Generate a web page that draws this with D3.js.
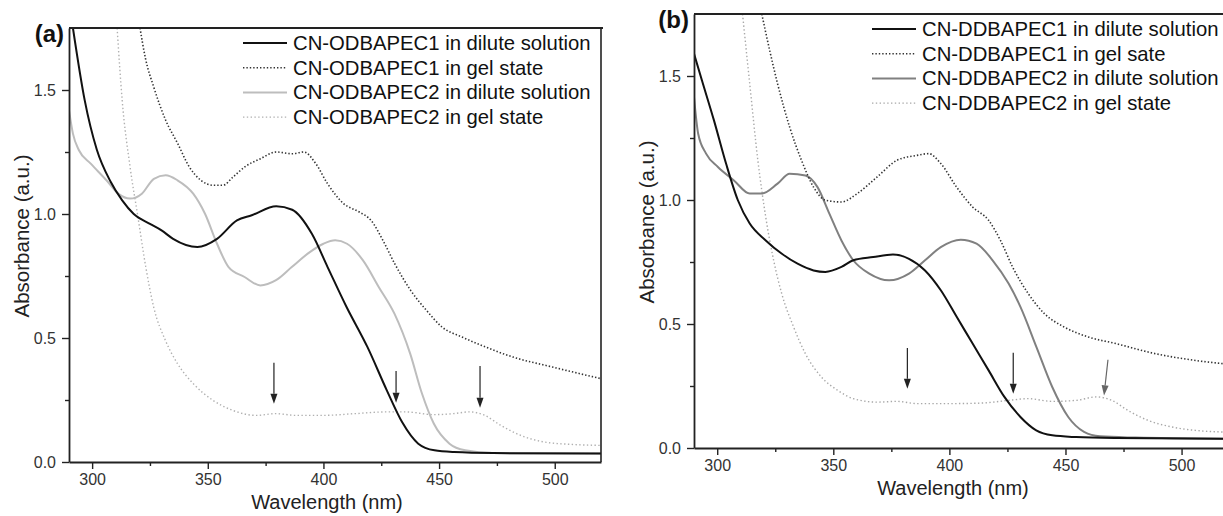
<!DOCTYPE html>
<html>
<head>
<meta charset="utf-8">
<script src="https://cdn.jsdelivr.net/npm/d3@7/dist/d3.min.js"></script>
<style>
  body { margin: 0; background: #fff; }
  svg { display: block; font-family: "Liberation Sans", Arial, sans-serif; }
</style>
</head>
<body>
<svg id="chart" width="1223" height="516"></svg>
<script>
// ---- data: [wavelength nm, absorbance a.u.] ----
var odb1Dilute = [[291.7,1.75],[296.8,1.458],[302,1.26],[308,1.13],[313,1.055],[318,1.0],[325,0.96],[330,0.934],
  [335,0.90],[345.5,0.867],[354,0.90],[362.6,0.974],[369,0.995],[379.6,1.031],[386.5,1.017],[395,0.92],
  [401.8,0.786],[410,0.625],[419,0.464],[427.4,0.289],[434,0.161],[441,0.074],[448,0.047],[456.5,0.040],
  [473.5,0.036],[520,0.034]];
var odb1Gel = [[320.7,1.75],[323,1.63],[326.7,1.51],[331.8,1.378],[337,1.284],[342,1.19],[347,1.136],[352.3,1.116],
  [356.6,1.116],[360.9,1.149],[366,1.19],[372.8,1.223],[379.6,1.25],[386.5,1.243],[391.6,1.25],[396.7,1.203],
  [401.8,1.122],[408.7,1.042],[415.5,1.008],[420.6,0.974],[425.7,0.894],[430.8,0.80],[437.7,0.692],[444.5,0.612],
  [451.3,0.544],[459.9,0.504],[468.4,0.470],[482,0.423],[499,0.383],[520,0.336]];
var odb2Dilute = [[290,1.418],[291.7,1.324],[294.3,1.257],[299.4,1.203],[306.2,1.136],[311.3,1.082],[316.4,1.062],
  [321.5,1.082],[326.7,1.142],[331.8,1.156],[336.9,1.136],[343.7,1.082],[348.8,1.001],[354,0.88],[359,0.786],
  [365.9,0.746],[372.7,0.712],[379.5,0.733],[386.3,0.786],[393.2,0.84],[400,0.88],[405.1,0.894],[410.2,0.88],
  [417.1,0.813],[423.9,0.706],[430.7,0.598],[437.5,0.437],[442.6,0.276],[447.7,0.155],[454.5,0.074],
  [461.3,0.047],[473.2,0.036],[520,0.034]];
var odb2Gel = [[310.8,1.75],[313,1.458],[316.4,1.19],[319.8,0.988],[323.2,0.786],[326.6,0.625],[331.7,0.49],
  [336.9,0.397],[343.7,0.316],[352.2,0.249],[360.8,0.208],[371,0.188],[379.5,0.195],[388,0.188],[400,0.188],
  [413.6,0.195],[427.2,0.202],[435.7,0.202],[447.7,0.191],[456.2,0.195],[463,0.202],[469.8,0.188],[476.6,0.148],
  [485.1,0.108],[495.3,0.081],[507.2,0.071],[520,0.067]];

var ddb1Dilute = [[290,1.59],[293.4,1.483],[298.6,1.321],[303.8,1.147],[308.9,0.999],[314,0.905],[320.9,0.837],
  [327.7,0.784],[334.6,0.743],[341.5,0.716],[346.6,0.710],[353.5,0.730],[358.6,0.757],[367.2,0.770],[375.7,0.780],
  [382.6,0.763],[389.5,0.716],[396.3,0.636],[403.2,0.528],[410,0.421],[416.9,0.313],[423.7,0.206],[430.6,0.125],
  [437.4,0.071],[444.3,0.051],[454.6,0.044],[471.7,0.040],[520,0.037]];
var ddb1Gel = [[319.2,1.75],[322.6,1.603],[326,1.469],[331.2,1.294],[336.3,1.16],[341.5,1.052],[346.6,0.999],
  [353.5,0.992],[360.3,1.026],[368.9,1.093],[377.4,1.16],[386,1.18],[391.1,1.187],[396.3,1.147],[403.1,1.052],
  [410,0.972],[416.9,0.918],[422,0.837],[427.2,0.730],[434,0.622],[440.9,0.542],[449.4,0.488],[459.7,0.448],
  [471.7,0.421],[488.9,0.380],[506,0.353],[520,0.338]];
var ddb2Dilute = [[290,1.415],[291.8,1.267],[295.2,1.187],[300.3,1.133],[307.2,1.079],[314,1.026],[319.2,1.026],
  [326,1.066],[331.2,1.106],[338,1.099],[343.2,1.052],[348.3,0.945],[353.5,0.837],[358.6,0.757],[365.5,0.703],
  [374,0.676],[382.6,0.703],[389.5,0.757],[396.3,0.810],[404.9,0.840],[411.7,0.824],[418.6,0.757],[425.5,0.663],
  [430.6,0.569],[437.5,0.407],[444.3,0.246],[451.2,0.125],[458,0.065],[464.9,0.047],[480.3,0.042],[520,0.037]];
var ddb2Gel = [[310.9,1.75],[314,1.469],[317.5,1.16],[320.9,0.931],[324.3,0.757],[327.8,0.622],[332.9,0.488],
  [338,0.380],[344.9,0.286],[351.8,0.233],[358.6,0.199],[368.9,0.185],[377.5,0.188],[386,0.179],[399.7,0.179],
  [413.4,0.181],[425.5,0.192],[434,0.199],[444.3,0.188],[454.6,0.192],[463.1,0.206],[470,0.192],[476.8,0.152],
  [485.4,0.112],[495.7,0.085],[506,0.071],[520,0.064]];

var legendA = ["CN-ODBAPEC1 in dilute solution", "CN-ODBAPEC1 in gel state",
               "CN-ODBAPEC2 in dilute solution", "CN-ODBAPEC2 in gel state"];
var legendB = ["CN-DDBAPEC1 in dilute solution", "CN-DDBAPEC1 in gel sate",
               "CN-DDBAPEC2 in dilute solution", "CN-DDBAPEC2 in gel state"];

// arrows: [x top, y top, x tip, y tip]
var arrowsA = [[378.6,0.40,378.6,0.235],[431.4,0.367,431.4,0.239],[467.7,0.387,467.7,0.219]];
var arrowsB = [[381.9,0.403,381.9,0.239],[427.5,0.384,427.5,0.219],[468.3,0.356,466.6,0.212]];

var xMajor = [300, 350, 400, 450, 500];
var xMinor = [325, 375, 425, 475];
var yMajor = [0, 0.5, 1.0, 1.5];
var yMinor = [0.25, 0.75, 1.25];

var svg = d3.select("#chart");

function drawPanel(p) {
    var x = d3.scaleLinear().domain([290, 520]).range([p.left, p.right]);
    var y = d3.scaleLinear().domain([0, 1.75]).range([p.bottom, p.top]);
    var g = svg.append("g");

    g.append("clipPath").attr("id", "clip-" + p.id)
        .append("rect")
        .attr("x", p.left).attr("y", p.top)
        .attr("width", p.right - p.left).attr("height", p.bottom - p.top);

    var line = d3.line()
        .x(function(d) { return x(d[0]); })
        .y(function(d) { return y(d[1]); })
        .curve(d3.curveMonotoneX);

    var plot = g.append("g").attr("clip-path", "url(#clip-" + p.id + ")");
    // draw light ones first so the black lines sit on top
    [3, 2, 1, 0].forEach(function(i) {
        var s = p.styles[i];
        plot.append("path")
            .datum(p.series[i])
            .attr("d", line)
            .attr("fill", "none")
            .attr("stroke", s.color)
            .attr("stroke-width", s.width)
            .attr("stroke-dasharray", s.dash || null);
    });

    // arrows
    p.arrows.forEach(function(a) {
        var x0 = x(a[0]), y0 = y(a[1]), x1 = x(a[2]), y1 = y(a[3]);
        var ang = Math.atan2(y1 - y0, x1 - x0), hl = 10, hw = 3.5;
        var bx = x1 - hl * Math.cos(ang), by = y1 - hl * Math.sin(ang);
        var col = p.arrowColor(a);
        g.append("line")
            .attr("x1", x0).attr("y1", y0).attr("x2", bx).attr("y2", by)
            .attr("stroke", col).attr("stroke-width", 1.2);
        g.append("path")
            .attr("d", "M" + x1 + "," + y1
                + "L" + (bx + hw * Math.sin(ang)) + "," + (by - hw * Math.cos(ang))
                + "L" + (bx - hw * Math.sin(ang)) + "," + (by + hw * Math.cos(ang)) + "Z")
            .attr("fill", col);
    });

    // frame
    g.append("line").attr("x1", p.left).attr("x2", p.right + 2).attr("y1", p.top).attr("y2", p.top)
        .attr("stroke", "#222").attr("stroke-width", 1.8);
    g.append("line").attr("x1", p.right).attr("x2", p.right).attr("y1", p.top).attr("y2", p.bottom)
        .attr("stroke", "#222").attr("stroke-width", 1.6);

    // axes
    var ax = g.append("g").attr("transform", "translate(0," + p.bottom + ")");
    ax.call(d3.axisBottom(x).tickValues(xMajor).tickSize(7).tickSizeOuter(0).tickPadding(5)
        .tickFormat(d3.format("d")));
    ax.append("g").call(d3.axisBottom(x).tickValues(xMinor).tickSize(4).tickFormat(""))
        .select(".domain").remove();

    var ay = g.append("g").attr("transform", "translate(" + p.left + ",0)");
    ay.call(d3.axisLeft(y).tickValues(yMajor).tickSize(7).tickSizeOuter(0).tickPadding(6)
        .tickFormat(d3.format(".1f")));
    ay.append("g").call(d3.axisLeft(y).tickValues(yMinor).tickSize(4).tickFormat(""))
        .select(".domain").remove();

    g.selectAll(".domain").attr("stroke", "#222").attr("stroke-width", 1.8);
    g.selectAll(".tick line").attr("stroke", "#222").attr("stroke-width", 1.4);
    g.selectAll(".tick text").attr("fill", "#333").style("font-size", "16px")
        .style("font-family", '"Liberation Sans", Arial, sans-serif');

    // titles
    g.append("text")
        .attr("x", (p.left + p.right) / 2 - 8).attr("y", p.bottom + 47)
        .attr("text-anchor", "middle").attr("fill", "#222").style("font-size", "20px")
        .text("Wavelength (nm)");
    g.append("text")
        .attr("transform", "translate(" + (p.left - 40) + "," + ((p.top + p.bottom) / 2 - 9) + ") rotate(-90)")
        .attr("text-anchor", "middle").attr("fill", "#222").style("font-size", "20.5px")
        .text("Absorbance (a.u.)");
    g.append("text")
        .attr("x", p.left - 5).attr("y", p.top + 14)
        .attr("text-anchor", "end").attr("fill", "#111")
        .style("font-size", "24px").style("font-weight", "bold")
        .text(p.label);

    // legend
    p.names.forEach(function(name, i) {
        var s = p.styles[i], ly = p.top + 15 + i * 24.7;
        g.append("line")
            .attr("x1", p.legX).attr("x2", p.legX + 44).attr("y1", ly).attr("y2", ly)
            .attr("stroke", s.color).attr("stroke-width", s.width)
            .attr("stroke-dasharray", s.dash || null);
        g.append("text")
            .attr("x", p.legX + 50).attr("y", ly + 7)
            .attr("fill", "#111").style("font-size", "20.3px")
            .text(name);
    });
}

drawPanel({
    id: "a", label: "(a)",
    left: 69, right: 601, top: 28, bottom: 462, legX: 243,
    series: [odb1Dilute, odb1Gel, odb2Dilute, odb2Gel],
    names: legendA,
    styles: [
        { color: "#111", width: 2 },
        { color: "#333", width: 1.6, dash: "1.4,2" },
        { color: "#bdbdbd", width: 2 },
        { color: "#b0b0b0", width: 1.4, dash: "1.4,2.4" }
    ],
    arrows: arrowsA,
    arrowColor: function() { return "#222"; }
});

drawPanel({
    id: "b", label: "(b)",
    left: 694, right: 1228, top: 14, bottom: 448, legX: 872,
    series: [ddb1Dilute, ddb1Gel, ddb2Dilute, ddb2Gel],
    names: legendB,
    styles: [
        { color: "#111", width: 2 },
        { color: "#333", width: 1.6, dash: "1.4,2" },
        { color: "#808080", width: 2 },
        { color: "#a8a8a8", width: 1.4, dash: "1.4,2.4" }
    ],
    arrows: arrowsB,
    arrowColor: function(a) { return a[0] > 460 ? "#666" : "#222"; }
});
</script>
</body>
</html>
